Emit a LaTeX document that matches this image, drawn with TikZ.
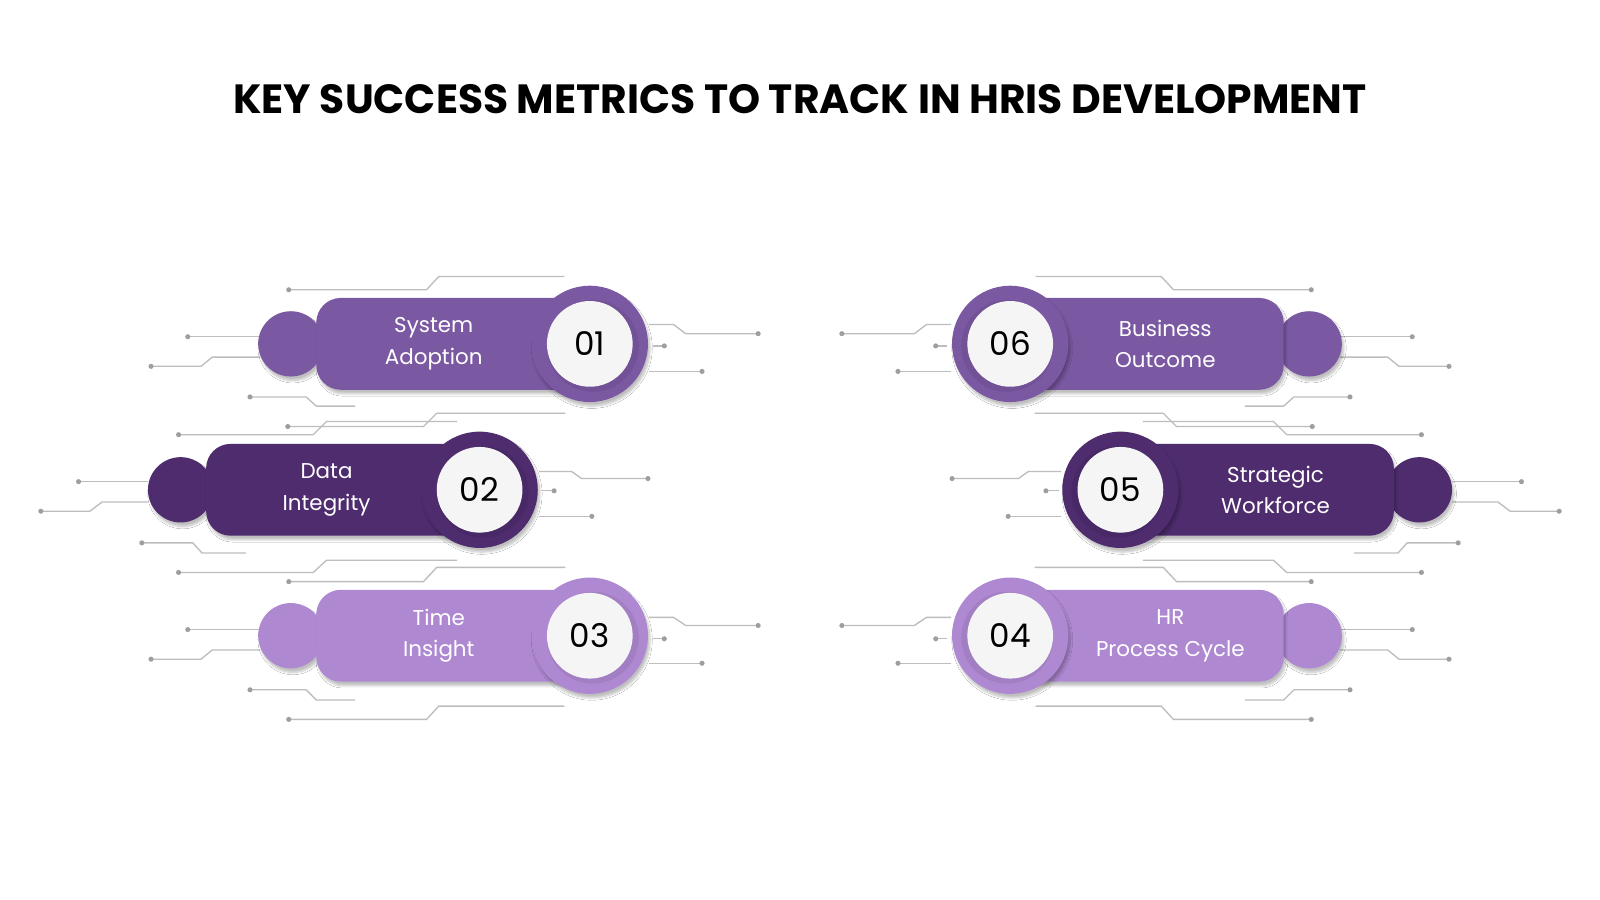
\documentclass[tikz,border=0pt]{standalone}
\usepackage{fontspec}
\setmainfont{Poppins}
\usetikzlibrary{shadows.blur}
\definecolor{cA}{HTML}{7B58A2}
\definecolor{cB}{HTML}{4E2C6E}
\definecolor{cC}{HTML}{AF88D2}
\definecolor{wire}{HTML}{BDBDBD}
\definecolor{dotc}{HTML}{9E9E9E}
\tikzset{
  wireline/.style={draw=wire, line width=1.3pt},
  wdot/.style={circle, fill=dotc, inner sep=0pt, minimum size=5pt},
  lbl/.style={text=white, align=center, font=\fontsize{21}{31}\selectfont},
  num/.style={text=black, font=\fontsize{32}{34}\selectfont},
  shd/.style={blur shadow={shadow xshift=2pt, shadow yshift=-4pt, shadow blur steps=8, shadow opacity=25}}
}
\newcommand\wire[2]{\draw[wireline] #2; \node[wdot] at #1 {};}
\newcommand\leftwires{%
  \wire{(283,284)}{(283,284)--(418,284)--(430,271)--(553,271)}
  \wire{(184,330)}{(184,330)--(258,330)}
  \wire{(148,359)}{(148,359)--(197,359)--(208,350)--(255,350)}
  \wire{(245,389)}{(245,389)--(300,389)--(310,398)--(348,398)}
  \wire{(743,327)}{(636,318)--(660,318)--(672,327)--(743,327)}
  \wire{(651,339)}{(640,339)--(651,339)}
  \wire{(688,364)}{(636,364)--(688,364)}
  \wire{(282,418)}{(282,418)--(415,418)--(428,405)--(554,405)}
  \wire{(175,426)}{(175,426)--(307,426)--(320,413)--(448,413)}
  \wire{(77,472)}{(77,472)--(145,472)}
  \wire{(40,501)}{(40,501)--(88,501)--(100,492)--(145,492)}
  \wire{(635,469)}{(528,462)--(560,462)--(570,469)--(635,469)}
  \wire{(543,481)}{(530,481)--(543,481)}
  \wire{(580,506)}{(528,506)--(580,506)}
  \wire{(139,532)}{(139,532)--(189,532)--(198,542)--(241,542)}
  \wire{(175,561)}{(175,561)--(307,561)--(320,549)--(448,549)}
  \wire{(283,570)}{(283,570)--(415,570)--(428,556)--(554,556)}
  \wire{(184,617)}{(184,617)--(258,617)}
  \wire{(148,646)}{(148,646)--(197,646)--(208,637)--(255,637)}
  \wire{(743,613)}{(636,605)--(660,605)--(672,613)--(743,613)}
  \wire{(651,626)}{(640,626)--(651,626)}
  \wire{(688,650)}{(636,650)--(688,650)}
  \wire{(245,676)}{(245,676)--(300,676)--(310,686)--(348,686)}
  \wire{(283,705)}{(283,705)--(418,705)--(430,692)--(553,692)}
}
% #1 name, #2 cx, #3 cy, #4 sign, #5 colour, #6 number, #7 label, #8 label x
\newcommand\metric[8]{%
  \fill[#5, shd] (#2-293*#4, #3) circle (32);
  \fill[#5, shd, rounded corners=24] (#2-268*#4, #3-45) rectangle (#2+10*#4, #3+45);
  \fill[#5, shd] (#2, #3) circle (57);
  \fill[#5!80!black, opacity=0.35] (#2+3*#4, #3+2) circle (45);
  \node[circle, fill=white!96!black, minimum size=84pt, inner sep=0pt, num] (#1) at (#2, #3) {#6};
  \node[lbl] (#1t) at (#8, #3) {#7};
}
\begin{document}
\begin{tikzpicture}[x=1pt, y=-1pt]
\useasboundingbox (0,0) rectangle (1568,882);
\fill[white] (0,0) rectangle (1568,882);
\node[font=\fontsize{40}{44}\selectfont\bfseries] (title) at (784,97) {KEY SUCCESS METRICS TO TRACK IN HRIS DEVELOPMENT};
\leftwires
\begin{scope}[shift={(1568,0)}, xscale=-1]
\leftwires
\end{scope}
\metric{m1}{578}{337}{1}{cA}{01}{System\\Adoption}{425}
\metric{m2}{470}{480}{1}{cB}{02}{Data\\Integrity}{320}
\metric{m3}{578}{623}{1}{cC}{03}{Time\\Insight}{430}
\metric{m6}{990}{337}{-1}{cA}{06}{Business\\Outcome}{1142}
\metric{m5}{1098}{480}{-1}{cB}{05}{Strategic\\Workforce}{1250}
\metric{m4}{990}{623}{-1}{cC}{04}{HR\\Process Cycle}{1147}
\end{tikzpicture}
\end{document}
